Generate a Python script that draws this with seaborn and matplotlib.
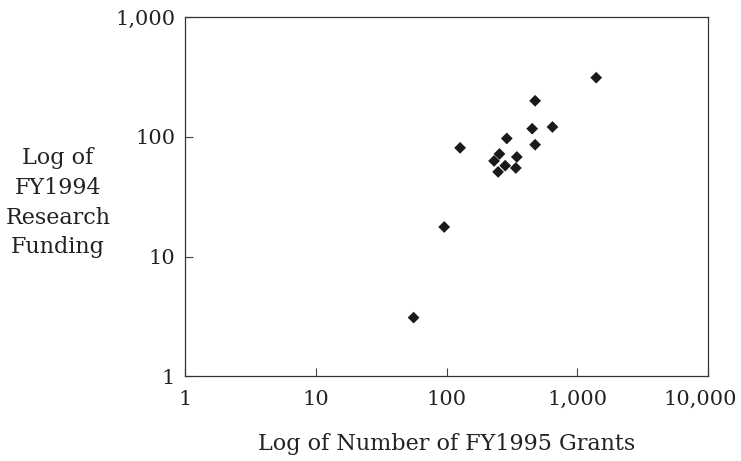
import matplotlib
matplotlib.use("Agg")
import matplotlib.pyplot as plt
import matplotlib.ticker as mticker
import matplotlib.transforms as mtransforms
import pandas as pd
import seaborn as sns

# values (log-log scatter)
grants_fy1995 = [56, 96, 127, 231, 248, 254, 281, 289, 339, 345, 452, 476, 476, 646, 1396]
funding_fy1994 = [3.1, 17.7, 81, 63, 51, 72, 57.5, 97, 55, 68, 117, 200, 86, 121, 312]

x_ticks = [1, 10, 100, 1000, 10000]
y_ticks = [1, 10, 100, 1000]

df = pd.DataFrame({"Grants": grants_fy1995, "Funding": funding_fy1994})

sns.set_style("ticks")
plt.rcParams["font.family"] = ["DejaVu Serif"]

fig = plt.figure(figsize=(7.41, 4.61), dpi=100)
ax = fig.add_axes([0.2497, 0.1833, 0.7058, 0.7797])

sns.scatterplot(data=df, x="Grants", y="Funding", marker="D", s=36,
                color="#1a1a1a", edgecolor="none", ax=ax)

ax.set_xscale("log")
ax.set_yscale("log")
ax.set_xlim(1, 10000)
ax.set_ylim(1, 1000)
ax.set_xticks(x_ticks)
ax.set_yticks(y_ticks)
ax.xaxis.set_minor_locator(mticker.NullLocator())
ax.yaxis.set_minor_locator(mticker.NullLocator())
fmt = mticker.FuncFormatter(lambda v, p: f"{int(round(v)):,}")
ax.xaxis.set_major_formatter(fmt)
ax.yaxis.set_major_formatter(fmt)
ax.tick_params(direction="in", length=6, width=0.8, color="#444444",
               labelsize=15, labelcolor="#222222", pad=7)
ax.tick_params(axis="x", pad=10)

# last x label sits a little left so it stays inside the figure
last = ax.get_xticklabels()[-1]
last.set_transform(last.get_transform() +
                   mtransforms.ScaledTranslation(-8 / 100, 0, fig.dpi_scale_trans))

for sp in ax.spines.values():
    sp.set_color("#333333")
    sp.set_linewidth(0.9)

ax.set_xlabel("Log of Number of FY1995 Grants", fontsize=16, color="#222222",
              labelpad=17)
ax.set_ylabel("Log of\nFY1994\nResearch\nFunding", fontsize=16, color="#222222",
              rotation=0, ha="center", va="center", linespacing=1.45)
ax.yaxis.set_label_coords(-0.243, 0.483)

fig.savefig("out.png", dpi=100)
